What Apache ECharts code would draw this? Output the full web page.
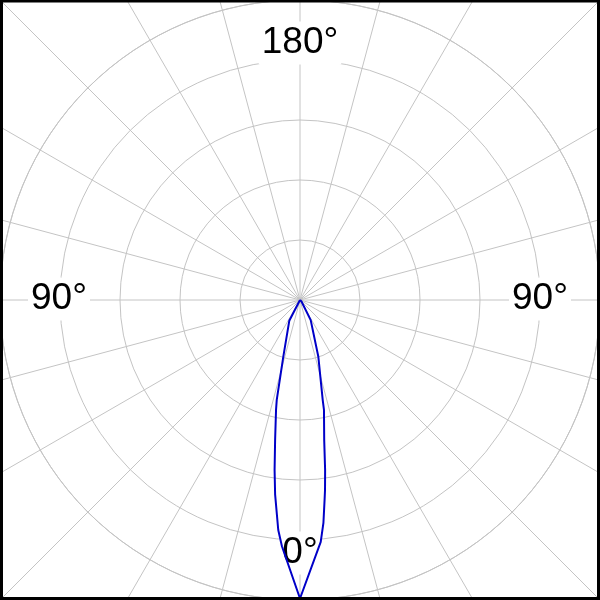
<!DOCTYPE html>
<html>
<head>
<meta charset="utf-8">
<script src="https://cdn.jsdelivr.net/npm/echarts@6/dist/echarts.min.js"></script>
<style>
html,body{margin:0;padding:0;background:#fff;}
#chart{width:600px;height:600px;}
</style>
</head>
<body>
<div id="chart"></div>
<script>
// Polar angles measured from the downward (0°) direction, degrees; values in % of the outer ring
const leftAngles  = [90, 45, 27.3, 16.4, 13.1, 12.3, 10.1, 8.5, 7.3, 5.4, 4.2, 0];
const leftValues  = [0, 0.7, 7.8, 19.7, 34.2, 37.5, 47.3, 57.3, 65.3, 77.0, 82.3, 99.5];
const rightAngles = [4.9, 6.0, 7.0, 7.5, 8.4, 9.8, 12.3, 12.8, 17.9, 28, 45, 90];
const rightValues = [80.9, 74.7, 67.2, 63.9, 57.3, 47.4, 37.5, 34.2, 19.9, 7.6, 0.7, 0];
const tickLabels = ['180°', '90°', '90°', '0°'];

const data = [];
leftAngles.forEach((a, i) => data.push([leftValues[i], a]));
rightAngles.forEach((a, i) => data.push([rightValues[i], 360 - a]));

const chart = echarts.init(document.getElementById('chart'));
const grey = '#c4c4c4';
const labelFont = '37px "Liberation Sans", Arial, sans-serif';
function lbl(text, x, y) {
  return {
    type: 'text', z: 5, x: x, y: y,
    style: {
      text: text, font: labelFont, fill: '#000',
      align: 'center', verticalAlign: 'middle',
      backgroundColor: '#fff', padding: [3, 3]
    }
  };
}
chart.setOption({
  animation: false,
  backgroundColor: '#fff',
  polar: [
    {center: ['50%', '50%'], radius: 440},
    {center: ['50%', '50%'], radius: 300}
  ],
  angleAxis: [
    {polarIndex: 0, type: 'value', min: 0, max: 360, interval: 15, startAngle: 270, clockwise: true,
     axisLine: {show: false}, axisTick: {show: false}, axisLabel: {show: false},
     splitLine: {show: true, lineStyle: {color: grey, width: 1}}},
    {polarIndex: 1, type: 'value', min: 0, max: 360, interval: 15, startAngle: 270, clockwise: true,
     axisLine: {show: true, lineStyle: {color: grey, width: 1}}, axisTick: {show: false}, axisLabel: {show: false},
     splitLine: {show: false}}
  ],
  radiusAxis: [
    {polarIndex: 0, type: 'value', min: 0, max: 1, axisLine: {show: false}, axisTick: {show: false},
     axisLabel: {show: false}, splitLine: {show: false}},
    {polarIndex: 1, type: 'value', min: 0, max: 100, interval: 20, axisLine: {show: false}, axisTick: {show: false},
     axisLabel: {show: false}, splitLine: {show: true, lineStyle: {color: grey, width: 1}}}
  ],
  graphic: [
    lbl(tickLabels[0], 300, 43),
    lbl(tickLabels[1], 59, 299),
    lbl(tickLabels[2], 540, 299),
    lbl(tickLabels[3], 300, 553),
    {type: 'rect', z: 20, shape: {x: 1.5, y: 1, width: 597, height: 597.5},
     style: {fill: 'none', stroke: '#000', lineWidth: 3}}
  ],
  series: [{
    type: 'line', coordinateSystem: 'polar', polarIndex: 1, z: 10,
    data: data, symbol: 'none', smooth: false,
    lineStyle: {color: '#0000c8', width: 2}
  }]
});
</script>
</body>
</html>
